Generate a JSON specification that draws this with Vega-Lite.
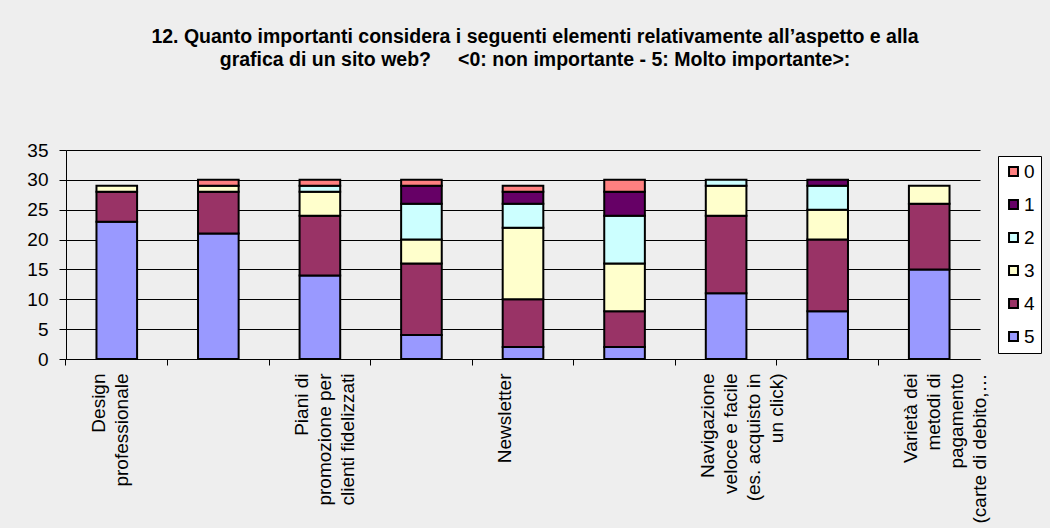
{
  "$schema": "https://vega.github.io/schema/vega-lite/v6.json",
  "width": 914,
  "height": 209,
  "padding": {"left": 26, "top": 26, "right": 8, "bottom": 5},
  "background": "#EEEEEE",
  "title": {
    "text": ["12. Quanto importanti considera i seguenti elementi relativamente all’aspetto e alla", "grafica di un sito web?\u00a0\u00a0\u00a0\u00a0\u00a0<0: non importante - 5: Molto importante>:"],
    "fontSize": 19.5,
    "fontWeight": "bold",
    "font": "Liberation Sans",
    "color": "black",
    "lineHeight": 23,
    "anchor": "middle",
    "frame": "group",
    "offset": 71,
    "dx": 12
  },
  "data": {
    "values": [
      {"item": "Design|professionale", "rating": 5, "count": 23},
      {"item": "Design|professionale", "rating": 4, "count": 5},
      {"item": "Design|professionale", "rating": 3, "count": 1},
      {"item": "Elemento 2", "rating": 5, "count": 21},
      {"item": "Elemento 2", "rating": 4, "count": 7},
      {"item": "Elemento 2", "rating": 3, "count": 1},
      {"item": "Elemento 2", "rating": 0, "count": 1},
      {"item": "Piani di|promozione per|clienti fidelizzati", "rating": 5, "count": 14},
      {"item": "Piani di|promozione per|clienti fidelizzati", "rating": 4, "count": 10},
      {"item": "Piani di|promozione per|clienti fidelizzati", "rating": 3, "count": 4},
      {"item": "Piani di|promozione per|clienti fidelizzati", "rating": 2, "count": 1},
      {"item": "Piani di|promozione per|clienti fidelizzati", "rating": 0, "count": 1},
      {"item": "Elemento 4", "rating": 5, "count": 4},
      {"item": "Elemento 4", "rating": 4, "count": 12},
      {"item": "Elemento 4", "rating": 3, "count": 4},
      {"item": "Elemento 4", "rating": 2, "count": 6},
      {"item": "Elemento 4", "rating": 1, "count": 3},
      {"item": "Elemento 4", "rating": 0, "count": 1},
      {"item": "Newsletter", "rating": 5, "count": 2},
      {"item": "Newsletter", "rating": 4, "count": 8},
      {"item": "Newsletter", "rating": 3, "count": 12},
      {"item": "Newsletter", "rating": 2, "count": 4},
      {"item": "Newsletter", "rating": 1, "count": 2},
      {"item": "Newsletter", "rating": 0, "count": 1},
      {"item": "Elemento 6", "rating": 5, "count": 2},
      {"item": "Elemento 6", "rating": 4, "count": 6},
      {"item": "Elemento 6", "rating": 3, "count": 8},
      {"item": "Elemento 6", "rating": 2, "count": 8},
      {"item": "Elemento 6", "rating": 1, "count": 4},
      {"item": "Elemento 6", "rating": 0, "count": 2},
      {"item": "Navigazione|veloce e facile|(es. acquisto in|un click)", "rating": 5, "count": 11},
      {"item": "Navigazione|veloce e facile|(es. acquisto in|un click)", "rating": 4, "count": 13},
      {"item": "Navigazione|veloce e facile|(es. acquisto in|un click)", "rating": 3, "count": 5},
      {"item": "Navigazione|veloce e facile|(es. acquisto in|un click)", "rating": 2, "count": 1},
      {"item": "Elemento 8", "rating": 5, "count": 8},
      {"item": "Elemento 8", "rating": 4, "count": 12},
      {"item": "Elemento 8", "rating": 3, "count": 5},
      {"item": "Elemento 8", "rating": 2, "count": 4},
      {"item": "Elemento 8", "rating": 1, "count": 1},
      {"item": "Varietà dei|metodi di|pagamento|(carte di debito,…", "rating": 5, "count": 15},
      {"item": "Varietà dei|metodi di|pagamento|(carte di debito,…", "rating": 4, "count": 11},
      {"item": "Varietà dei|metodi di|pagamento|(carte di debito,…", "rating": 3, "count": 3}
    ]
  },
  "mark": {"type": "bar", "stroke": "black", "strokeWidth": 2},
  "encoding": {
    "x": {
      "field": "item",
      "type": "nominal",
      "sort": null,
      "scale": {"paddingInner": 0.6, "paddingOuter": 0.3},
      "axis": {
        "title": null,
        "labelAngle": 270,
        "labelFontSize": 19,
        "labelLineHeight": 23,
        "labelColor": "black",
        "labelPadding": 8,
        "labelLimit": 300,
        "labelExpr": "indexof(datum.value, 'Elemento') == 0 ? '' : split(datum.value, '|')",
        "bandPosition": -0.75,
        "labelOffset": -18,
        "tickSize": 6,
        "tickColor": "black",
        "domainColor": "black"
      }
    },
    "y": {
      "field": "count",
      "type": "quantitative",
      "stack": "zero",
      "scale": {"domain": [0, 35], "nice": false},
      "axis": {
        "title": null,
        "values": [0, 5, 10, 15, 20, 25, 30, 35],
        "labelFontSize": 19,
        "labelColor": "black",
        "labelPadding": 11,
        "tickSize": 7,
        "tickColor": "black",
        "domainColor": "black",
        "gridColor": "black",
        "gridOpacity": 1
      }
    },
    "color": {
      "field": "rating",
      "type": "nominal",
      "scale": {
        "domain": [0, 1, 2, 3, 4, 5],
        "range": ["#FF8080", "#660066", "#CCFFFF", "#FFFFCC", "#993366", "#9999FF"]
      },
      "legend": {
        "title": null,
        "orient": "none",
        "legendX": 932,
        "legendY": 6,
        "fillColor": "white",
        "strokeColor": "black",
        "padding": 6,
        "symbolType": "square",
        "symbolSize": 80,
        "symbolStrokeColor": "black",
        "symbolStrokeWidth": 2,
        "labelFontSize": 19,
        "labelColor": "black",
        "labelOffset": 1,
        "rowPadding": 13
      }
    },
    "order": {"field": "rating", "type": "quantitative", "sort": "descending"}
  },
  "config": {
    "font": "Liberation Sans",
    "view": {"stroke": null}
  }
}
